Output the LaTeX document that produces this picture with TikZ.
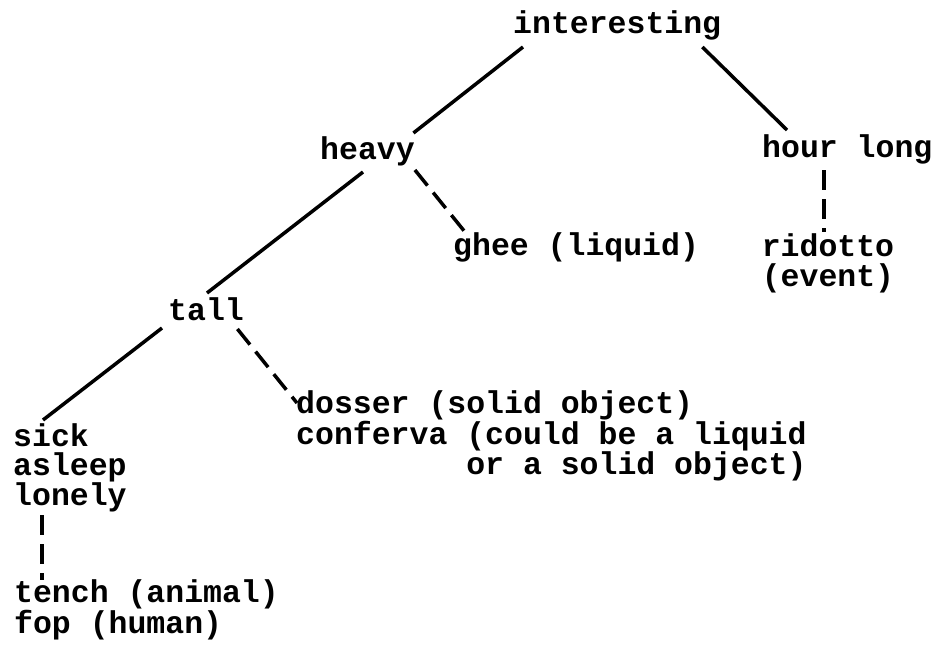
\documentclass[tikz,border=0pt]{standalone}
\usepackage{fontspec}
\setmainfont{Liberation Mono}
\usepackage{tikz}
\usetikzlibrary{calc}

\begin{document}
\begin{tikzpicture}[x=1pt,y=-1pt,
    font=\fontsize{31.5}{29.5}\selectfont\bfseries,
    word/.style={inner sep=0pt,anchor=base west,align=left},
    solidedge/.style={line width=3.5pt},
    dashedge/.style={line width=3.5pt,dash pattern=on 20pt off 9pt}]
  \useasboundingbox (0,0) rectangle (938,649);
  \node[word] (interesting) at (513,33) {interesting};
  \node[word] (heavy) at (320,159) {heavy};
  \node[word] (hour) at (762,157) {hour long};
  \node[word] (ghee) at (453,255) {ghee (liquid)};
  \node[word,anchor=base,align=center] (ridotto) at (828,286) {ridotto\\(event)};
  \node[word] (tall) at (168,320) {tall};
  \node[word] (dosser) at (296,474)
    {dosser (solid object)\\conferva (could be a liquid\\\hphantom{xxxxxxxxx}or a solid object)};
  \node[word] (sick) at (13,505) {sick\\asleep\\lonely};
  \node[word] (tench) at (14,633) {tench (animal)\\fop (human)};
  \draw[solidedge] ($(interesting.base west)+(10,14)$) -- ($(heavy.base east)+(-1.5,-26)$);
  \draw[solidedge] ($(interesting.base east)+(-19,14)$) -- ($(hour.base west)+(25,-27)$);
  \draw[solidedge] ($(heavy.base west)+(43,13)$) -- ($(tall.base west)+(39,-27)$);
  \draw[dashedge] ($(heavy.base east)+(0,11)$) -- ($(ghee.base west)+(12,-23)$);
  \draw[dashedge] ($(hour.base west)+(62,13)$) -- ($(ridotto.base)+(-4,-54)$);
  \draw[solidedge] ($(tall.base west)+(-6,8)$) -- ($(sick.base west)+(30,-85)$);
  \draw[dashedge] ($(tall.base east)+(-6.6,9)$) -- ($(dosser.base west)+(1,-71)$);
  \draw[dashedge] ($(sick.base west)+(29,10)$) -- ($(tench.base west)+(28,-53)$);
\end{tikzpicture}
\end{document}
